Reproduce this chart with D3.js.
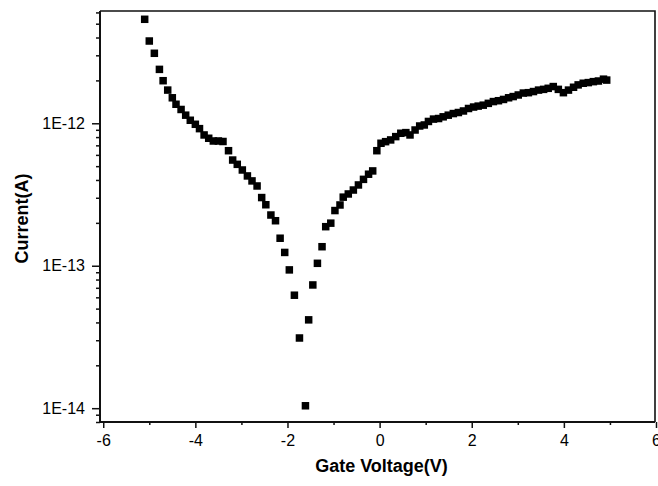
<!DOCTYPE html>
<html>
<head>
<meta charset="utf-8">
<script src="https://cdn.jsdelivr.net/npm/d3@7"></script>
<style>
  html, body { margin: 0; padding: 0; background: #fff; }
  svg { display: block; font-family: "Liberation Sans", Arial, sans-serif; }
</style>
</head>
<body>
<svg id="chart" width="658" height="486"></svg>
<script>
// Gate voltage (V)
const voltage = [
  -5.10, -5.00, -4.89, -4.78, -4.70, -4.60, -4.50, -4.42, -4.31, -4.21,
  -4.11, -4.00, -3.91, -3.81, -3.71, -3.61, -3.50, -3.40, -3.28, -3.19,
  -3.09, -2.98, -2.87, -2.77, -2.66, -2.56, -2.47, -2.36, -2.26, -2.16,
  -2.06, -1.96, -1.85, -1.74, -1.61, -1.54, -1.45, -1.35, -1.25, -1.17,
  -1.06, -0.97, -0.86, -0.79, -0.68, -0.57, -0.46, -0.35, -0.24, -0.15,
  -0.06, 0.03, 0.13, 0.24, 0.35, 0.46, 0.57, 0.66, 0.77, 0.87,
  0.97, 1.06, 1.17, 1.28, 1.38, 1.49, 1.60, 1.71, 1.82, 1.93,
  2.04, 2.14, 2.25, 2.36, 2.47, 2.58, 2.69, 2.80, 2.90, 3.01,
  3.12, 3.23, 3.34, 3.45, 3.56, 3.66, 3.77, 3.88, 3.99, 4.10,
  4.21, 4.31, 4.42, 4.53, 4.64, 4.75, 4.86, 4.93
]

// Current (A), same order
const current = [
  5.37e-12, 3.78e-12, 3.10e-12, 2.39e-12, 1.99e-12, 1.71e-12, 1.51e-12, 1.36e-12, 1.25e-12, 1.14e-12,
  1.05e-12, 9.84e-13, 9.17e-13, 8.28e-13, 7.85e-13, 7.51e-13, 7.51e-13, 7.45e-13, 6.42e-13, 5.52e-13,
  5.15e-13, 4.70e-13, 4.27e-13, 3.94e-13, 3.63e-13, 3.01e-13, 2.68e-13, 2.27e-13, 2.07e-13, 1.56e-13,
  1.24e-13, 9.35e-14, 6.21e-14, 3.11e-14, 1.04e-14, 4.17e-14, 7.33e-14, 1.04e-13, 1.36e-13, 1.88e-13,
  1.99e-13, 2.44e-13, 2.67e-13, 3.03e-13, 3.19e-13, 3.40e-13, 3.69e-13, 4.04e-13, 4.39e-13, 4.63e-13,
  6.42e-13, 7.24e-13, 7.43e-13, 7.64e-13, 8.06e-13, 8.51e-13, 8.60e-13, 8.28e-13, 8.97e-13, 9.57e-13,
  9.73e-13, 1.03e-12, 1.07e-12, 1.08e-12, 1.11e-12, 1.14e-12, 1.17e-12, 1.19e-12, 1.22e-12, 1.27e-12,
  1.30e-12, 1.32e-12, 1.34e-12, 1.38e-12, 1.42e-12, 1.44e-12, 1.47e-12, 1.51e-12, 1.54e-12, 1.58e-12,
  1.63e-12, 1.64e-12, 1.67e-12, 1.71e-12, 1.73e-12, 1.76e-12, 1.81e-12, 1.73e-12, 1.64e-12, 1.71e-12,
  1.79e-12, 1.86e-12, 1.91e-12, 1.93e-12, 1.96e-12, 1.98e-12, 2.04e-12, 2.01e-12
]

// Axis ticks
const xMajorTicks = [-6, -4, -2, 0, 2, 4, 6]
const xMinorTicks = [-5, -3, -1, 1, 3, 5]
const yMajorTicks = [1e-14, 1e-13, 1e-12]
const yMajorLabels = ['1E-14', '1E-13', '1E-12']
const yMinorTicks = [
  8e-15, 9e-15,
  2e-14, 3e-14, 4e-14, 5e-14, 6e-14, 7e-14, 8e-14, 9e-14,
  2e-13, 3e-13, 4e-13, 5e-13, 6e-13, 7e-13, 8e-13, 9e-13,
  2e-12, 3e-12, 4e-12, 5e-12, 6e-12
]

const xTitle = 'Gate Voltage(V)'
const yTitle = 'Current(A)'

const points = voltage.map((v, i) => ({ v: v, c: current[i] }))

// plot box
const box = { left: 100, right: 655, top: 11, bottom: 422 }
const markerSize = 7.5

const svg = d3.select('#chart')

const xScale = d3.scaleLinear()
  .domain([-6.07, 6])
  .range([box.left, 656])

const yScale = d3.scaleLog()
  .domain([8.0e-15, 6.14e-12])
  .range([box.bottom, box.top])

// frame (top and right sides)
svg.append('path')
  .attr('d', `M${box.left},${box.top}H${box.right}V${box.bottom}`)
  .attr('fill', 'none')
  .attr('stroke', '#111')
  .attr('stroke-width', 1.6)

// minor ticks first, then major axes on top
svg.append('g')
  .attr('transform', `translate(0, ${box.bottom})`)
  .call(d3.axisBottom(xScale).tickValues(xMinorTicks).tickSize(3).tickFormat(''))
  .call(g => g.select('.domain').remove())

svg.append('g')
  .attr('transform', `translate(${box.left}, 0)`)
  .call(d3.axisLeft(yScale).tickValues(yMinorTicks).tickSize(4).tickFormat(''))
  .call(g => g.select('.domain').remove())

const xAxis = svg.append('g')
  .attr('transform', `translate(0, ${box.bottom})`)
  .call(d3.axisBottom(xScale)
    .tickValues(xMajorTicks)
    .tickSize(6)
    .tickPadding(7)
    .tickFormat(d => d))

xAxis.select('.domain')
  .attr('d', `M${box.left},0H${box.right}`)

const yAxis = svg.append('g')
  .attr('transform', `translate(${box.left}, 0)`)
  .call(d3.axisLeft(yScale)
    .tickValues(yMajorTicks)
    .tickSize(8)
    .tickPadding(7)
    .tickFormat((d, i) => yMajorLabels[i]))

yAxis.select('.domain')
  .attr('d', `M0,${box.top}V${box.bottom}`)

svg.selectAll('.domain')
  .attr('stroke', '#111')
  .attr('stroke-width', 2)

svg.selectAll('.tick line')
  .attr('stroke', '#111')
  .attr('stroke-width', 1.5)

svg.selectAll('.tick text')
  .attr('fill', '#000')
  .attr('font-size', 16)
  .attr('font-family', '"Liberation Sans", Arial, sans-serif')

// axis titles
svg.append('text')
  .attr('x', (box.left + box.right) / 2 + 4)
  .attr('y', 472)
  .attr('text-anchor', 'middle')
  .attr('font-size', 18)
  .attr('font-weight', 'bold')
  .attr('fill', '#000')
  .text(xTitle)

svg.append('text')
  .attr('transform', `translate(28, ${(box.top + box.bottom) / 2 + 2}) rotate(-90)`)
  .attr('text-anchor', 'middle')
  .attr('font-size', 18)
  .attr('font-weight', 'bold')
  .attr('fill', '#000')
  .text(yTitle)

// data markers
svg.append('g')
  .selectAll('rect')
  .data(points)
  .join('rect')
  .attr('x', d => xScale(d.v) - markerSize / 2)
  .attr('y', d => yScale(d.c) - markerSize / 2)
  .attr('width', markerSize)
  .attr('height', markerSize)
  .attr('fill', '#000')
</script>
</body>
</html>
